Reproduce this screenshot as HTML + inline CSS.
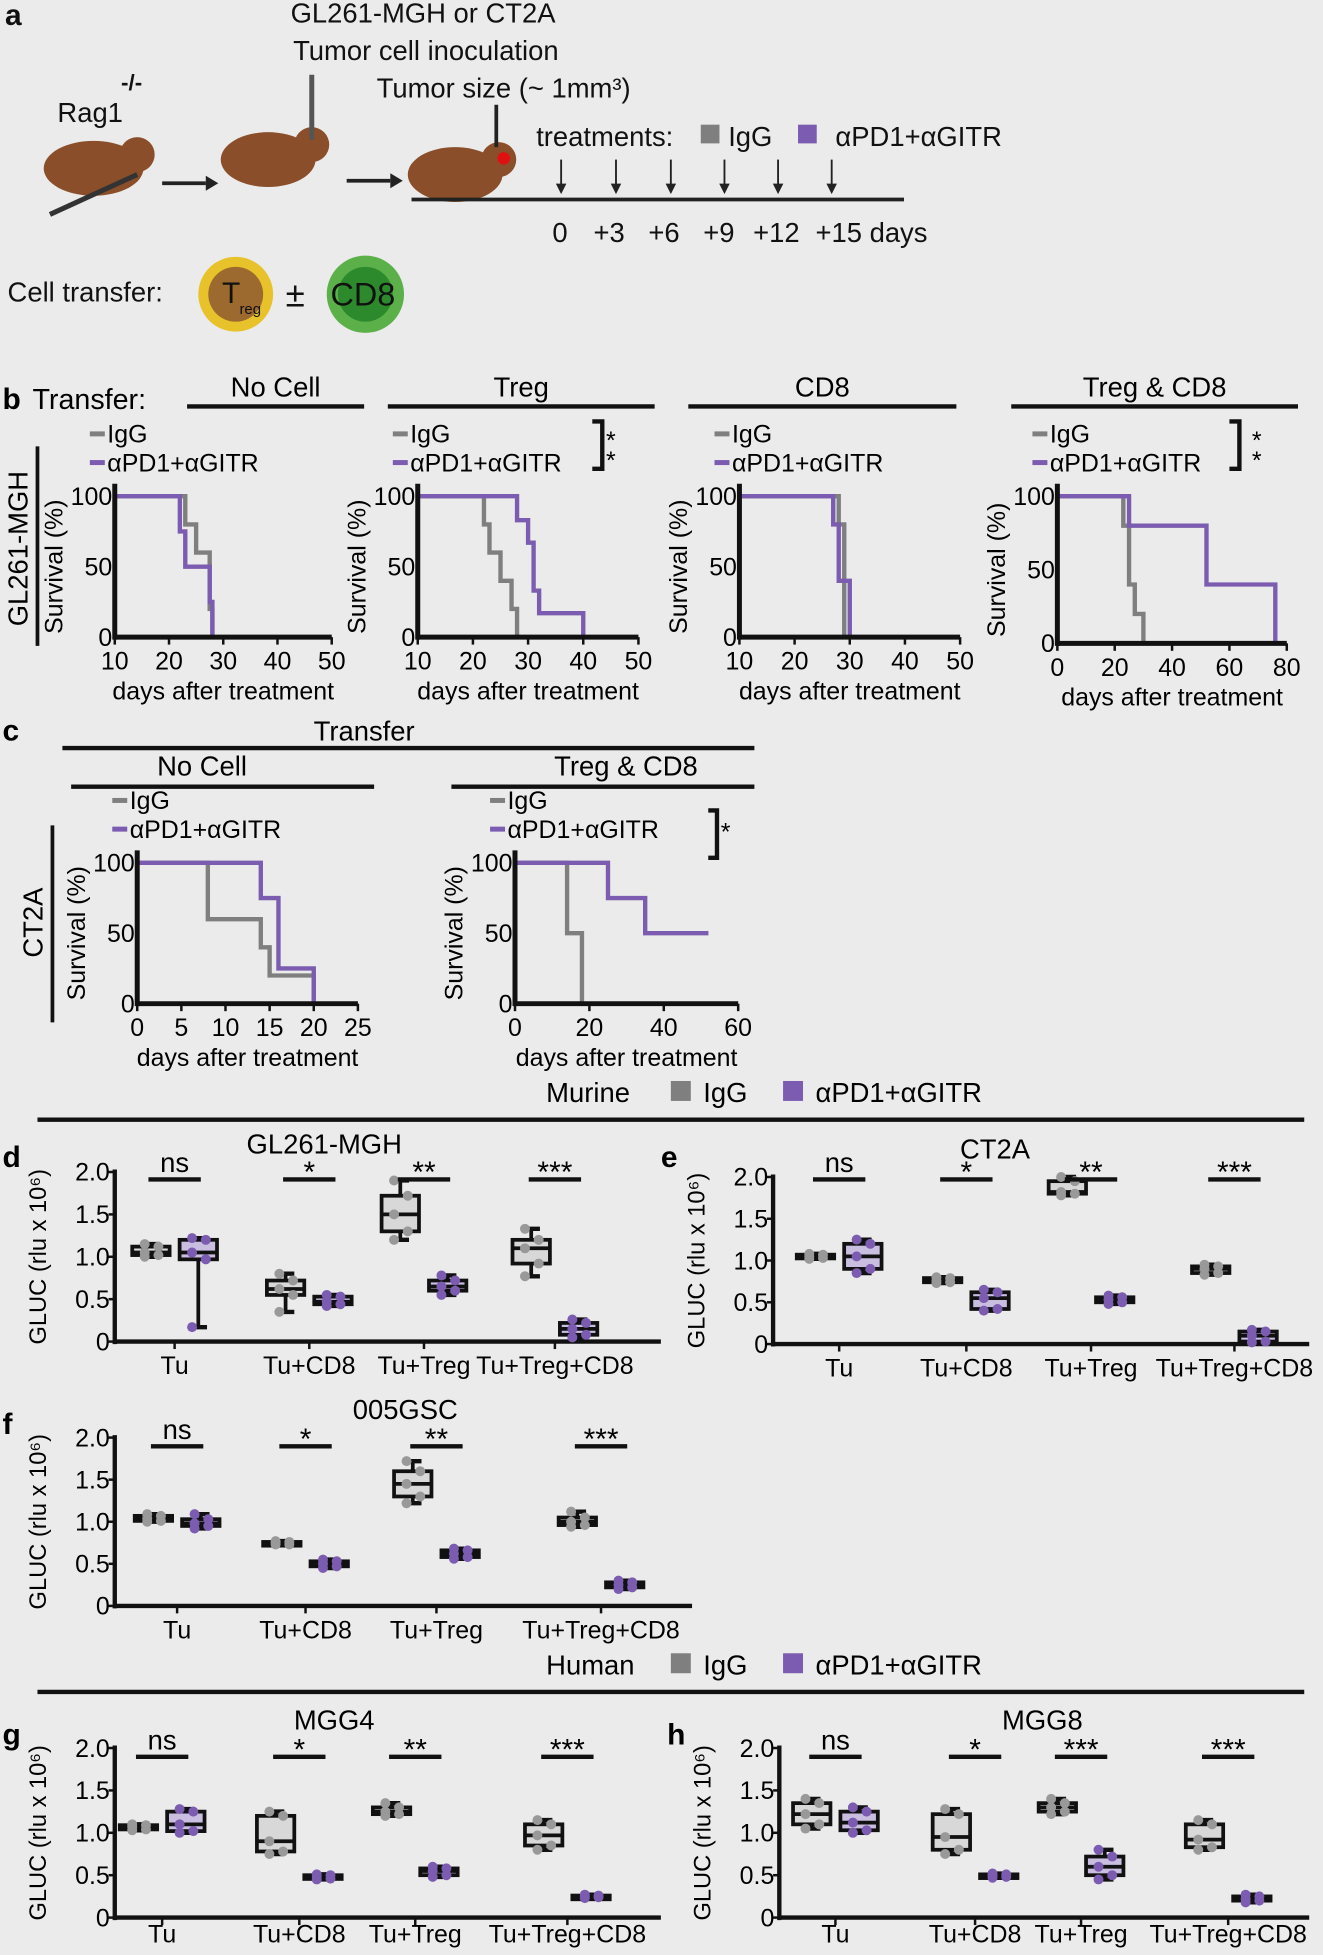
<!DOCTYPE html>
<html><head><meta charset="utf-8"><style>
html,body{margin:0;padding:0;background:#ebebeb;}
svg{display:block;font-family:"Liberation Sans",sans-serif;}
</style></head><body>
<svg id="fig" width="1323" height="1955" viewBox="0 0 1061 1568" xmlns="http://www.w3.org/2000/svg">
<rect width="1061" height="1568" fill="#ebebeb"/>
<g font-size="22" fill="#111">
<text x="4" y="20" font-size="24" font-weight="bold">a</text>
<text x="233" y="18">GL261-MGH or CT2A</text>
<text x="235" y="48">Tumor cell inoculation</text>
<text x="302" y="78">Tumor size (~ 1mm³)</text>
<text x="46" y="98">Rag1</text><text x="97" y="72" font-size="18" font-weight="bold">-/-</text>
<ellipse cx="75" cy="135" rx="40" ry="22" fill="#8a4f2a"/><circle cx="110" cy="124" r="14" fill="#8a4f2a"/>
<line x1="40" y1="172" x2="110" y2="140" stroke="#333" stroke-width="4"/>
<line x1="130" y1="147" x2="165" y2="147" stroke="#222" stroke-width="3"/><polygon points="165,141 175,147 165,153" fill="#222"/>
<ellipse cx="215" cy="128" rx="38" ry="22" fill="#8a4f2a"/><circle cx="250" cy="116" r="14" fill="#8a4f2a"/>
<line x1="250" y1="60" x2="250" y2="112" stroke="#555" stroke-width="4"/>
<line x1="278" y1="145" x2="313" y2="145" stroke="#222" stroke-width="3"/><polygon points="313,139 323,145 313,151" fill="#222"/>
<ellipse cx="365" cy="140" rx="38" ry="22" fill="#8a4f2a"/><circle cx="400" cy="128" r="14" fill="#8a4f2a"/><circle cx="404" cy="127" r="5" fill="#e01010"/>
<line x1="398" y1="84" x2="398" y2="118" stroke="#222" stroke-width="3"/>
<line x1="330" y1="160" x2="725" y2="160" stroke="#222" stroke-width="3"/>
<text x="430" y="117">treatments:</text><rect x="562" y="100" width="15" height="15" fill="#7f7f7f"/><text x="584" y="117">IgG</text>
<rect x="640" y="100" width="15" height="15" fill="#7b5cb0"/><text x="670" y="117">αPD1+αGITR</text>
<g id="ticks-a" stroke="#222" stroke-width="1.5"></g>
<text x="443" y="194">0</text><text x="476" y="194">+3</text><text x="520" y="194">+6</text><text x="564" y="194">+9</text><text x="604" y="194">+12</text><text x="654" y="194">+15 days</text>
<text x="6" y="242">Cell transfer:</text>
<circle cx="189" cy="236" r="30" fill="#e8c22a"/><circle cx="189" cy="236" r="22" fill="#9c6a2e"/>
<text x="178" y="243" font-size="24">T</text><text x="192" y="252" font-size="12">reg</text>
<text x="229" y="246" font-size="28">±</text>
<circle cx="293" cy="236" r="31" fill="#5cb04a"/><circle cx="293" cy="236" r="22" fill="#2d8a2c"/><text x="265" y="245" font-size="26">CD8</text>
</g>
<g id="charts"></g>
</svg>
<script>
// ---------- survival data ----------
const b1IgG_t=[10,23,25,27.5,28], b1IgG_s=[100,80,60,20,0];
const b1P_t=[10,22,23,27.5,28], b1P_s=[100,75,50,25,0];
const b2IgG_t=[10,22,23,25,27,28], b2IgG_s=[100,80,60,40,20,0];
const b2P_t=[10,28,30,31,32,40], b2P_s=[100,83,67,33,17,0];
const b3IgG_t=[10,28,29], b3IgG_s=[100,80,0];
const b3P_t=[10,27,28,30], b3P_s=[100,80,40,0];
const b4IgG_t=[0,23,25,27,30], b4IgG_s=[100,80,40,20,0];
const b4P_t=[0,25,52,76], b4P_s=[100,80,40,0];
const c1IgG_t=[0,8,14,15,20], c1IgG_s=[100,60,40,20,0];
const c1P_t=[0,14,16,20], c1P_s=[100,75,25,0];
const c2IgG_t=[0,14,18,24], c2IgG_s=[100,50,0,0];
const c2P_t=[0,25,35,52], c2P_s=[100,75,50,50];
const ticks1050=[10,20,30,40,50], ticks080=[0,20,40,60,80], ticks025=[0,5,10,15,20,25], ticks060=[0,20,40,60];
// ---------- box data [min,q1,med,q3,max] ----------
const groups=["Tu","Tu+CD8","Tu+Treg","Tu+Treg+CD8"];
const dIgG=[[1.0,1.02,1.05,1.12,1.15],[0.35,0.55,0.62,0.72,0.8],[1.2,1.3,1.5,1.72,1.9],[0.77,0.92,1.1,1.2,1.33]];
const dP=[[0.17,0.97,1.05,1.2,1.22],[0.42,0.44,0.47,0.53,0.55],[0.55,0.6,0.65,0.72,0.78],[0.05,0.08,0.15,0.22,0.26]];
const eIgG=[[1.02,1.03,1.05,1.07,1.08],[0.73,0.74,0.76,0.79,0.8],[1.78,1.8,1.82,1.95,2.0],[0.83,0.85,0.9,0.93,0.95]];
const eP=[[0.85,0.9,1.05,1.2,1.25],[0.4,0.42,0.55,0.62,0.65],[0.48,0.5,0.53,0.56,0.58],[0.02,0.03,0.1,0.15,0.17]];
const fIgG=[[1.0,1.01,1.04,1.07,1.09],[0.73,0.73,0.75,0.76,0.77],[1.22,1.3,1.45,1.6,1.72],[0.94,0.96,1.0,1.05,1.12]];
const fP=[[0.92,0.95,0.98,1.03,1.09],[0.45,0.47,0.5,0.53,0.55],[0.56,0.58,0.62,0.66,0.68],[0.2,0.22,0.25,0.28,0.3]];
const gIgG=[[1.03,1.04,1.07,1.09,1.1],[0.75,0.78,0.9,1.2,1.25],[1.2,1.22,1.25,1.3,1.35],[0.8,0.85,0.97,1.1,1.15]];
const gP=[[1.0,1.02,1.1,1.25,1.28],[0.45,0.46,0.48,0.5,0.51],[0.48,0.5,0.55,0.58,0.6],[0.23,0.24,0.25,0.26,0.27]];
const hIgG=[[1.05,1.1,1.22,1.35,1.4],[0.75,0.8,0.95,1.22,1.28],[1.22,1.25,1.3,1.35,1.4],[0.8,0.83,0.92,1.1,1.15]];
const hP=[[1.0,1.03,1.12,1.25,1.3],[0.47,0.48,0.5,0.51,0.52],[0.45,0.5,0.6,0.72,0.8],[0.18,0.2,0.22,0.25,0.27]];
const sig=["ns","*","**","***"];
const sigH=["ns","*","***","***"];
const yTicks=[0,0.5,1.0,1.5,2.0], yTickLabels=["0","0.5","1.0","1.5","2.0"];

const NS="http://www.w3.org/2000/svg";
const root=document.getElementById("charts");
function mk(tag,attrs,parent,txt){const e=document.createElementNS(NS,tag);for(const k in attrs)e.setAttribute(k,attrs[k]);if(txt!==undefined)e.textContent=txt;(parent||root).appendChild(e);return e;}
const GRAY="#7f7f7f", PUR="#7b5cb0";

const ta=document.getElementById("ticks-a");
[450,494,538,581,624,667].forEach(x=>{mk("line",{x1:x,y1:128,x2:x,y2:152},ta);mk("polygon",{points:`${x-3},148 ${x+3},148 ${x},154`,fill:"#222"},ta);});

function surv(name,x0,x1,y0,y1,xmin,xmax,ticks,series){
  const g=mk("g",{});
  
  
  const sx=v=>x0+(v-xmin)/(xmax-xmin)*(x1-x0), sy=v=>y0-(v/100)*(y0-y1);
  series.forEach(s=>{
    let d=`M${sx(s.t[0])},${sy(s.s[0])}`;
    for(let i=1;i<s.t.length;i++){d+=` H${sx(s.t[i])} V${sy(s.s[i])}`;}
    const p=mk("path",{d:d,fill:"none",stroke:s.c,"stroke-width":3.5},g);
    
    
  });
  mk("line",{x1:x0,y1:y0,x2:x1,y2:y0,stroke:"#111","stroke-width":4},g);
  mk("line",{x1:x0,y1:y0+2,x2:x0,y2:y1-10,stroke:"#111","stroke-width":4},g);
  ticks.forEach(t=>{mk("line",{x1:sx(t),y1:y0,x2:sx(t),y2:y0+6,stroke:"#111","stroke-width":2},g);
    const tl=mk("text",{x:sx(t),y:y0+26,"text-anchor":"middle","font-size":20},g,String(t));
    });
  [0,50,100].forEach(v=>{const tl=mk("text",{x:x0-2,y:sy(v)+7,"text-anchor":"end","font-size":20},g,String(v));
    });
  const xt=mk("text",{x:(x0+x1)/2,y:y0+50,"text-anchor":"middle","font-size":20},g,"days after treatment");
  
  const yt=mk("text",{transform:`translate(${x0-42},${(y0+y1)/2}) rotate(-90)`,"text-anchor":"middle","font-size":20},g,"Survival (%)");
  
  mk("line",{x1:x0-20,y1:y1-50,x2:x0-8,y2:y1-50,stroke:GRAY,"stroke-width":4},g);
  mk("text",{x:x0-6,y:y1-43,"font-size":20},g,"IgG");
  mk("line",{x1:x0-20,y1:y1-27,x2:x0-8,y2:y1-27,stroke:PUR,"stroke-width":4},g);
  mk("text",{x:x0-6,y:y1-20,"font-size":20},g,"αPD1+αGITR");
  return g;
}
surv("survival-b-no-cell",92,266,511,398,10,50,ticks1050,[{t:b1IgG_t,s:b1IgG_s,c:GRAY},{t:b1P_t,s:b1P_s,c:PUR}]);
surv("survival-b-treg",335,512,511,398,10,50,ticks1050,[{t:b2IgG_t,s:b2IgG_s,c:GRAY},{t:b2P_t,s:b2P_s,c:PUR}]);
surv("survival-b-cd8",593,770,511,398,10,50,ticks1050,[{t:b3IgG_t,s:b3IgG_s,c:GRAY},{t:b3P_t,s:b3P_s,c:PUR}]);
surv("survival-b-treg-cd8",848,1032,516,398,0,80,ticks080,[{t:b4IgG_t,s:b4IgG_s,c:GRAY},{t:b4P_t,s:b4P_s,c:PUR}]);
surv("survival-c-no-cell",110,287,805,692,0,25,ticks025,[{t:c1IgG_t,s:c1IgG_s,c:GRAY},{t:c1P_t,s:c1P_s,c:PUR}]);
surv("survival-c-treg-cd8",413,592,805,692,0,60,ticks060,[{t:c2IgG_t,s:c2IgG_s,c:GRAY},{t:c2P_t,s:c2P_s,c:PUR}]);

function txt(x,y,s,size,extra,name){const t=mk("text",Object.assign({x:x,y:y,"font-size":size},extra||{}),root,s);return t;}
function ln(x1,y1,x2,y2,w){mk("line",{x1,y1,x2,y2,stroke:"#111","stroke-width":w||3});}
txt(2,328,"b",24,{"font-weight":"bold"},"panel-b-letter");txt(26,328,"Transfer:",23);
[[150,292,"No Cell"],[311,525,"Treg"],[552,767,"CD8"],[811,1041,"Treg & CD8"]].forEach(h=>{ln(h[0],326,h[1],326,3.5);txt((h[0]+h[1])/2,318,h[2],22,{"text-anchor":"middle"},"transfer-header");});
txt(22,440,"GL261-MGH",22,{transform:"rotate(-90 22 440)","text-anchor":"middle"},"row-label");ln(30,358,30,518,3);
mk("path",{d:"M475,338 h8 v38 h-8",fill:"none",stroke:"#111","stroke-width":3.5});txt(486,360,"*",20);txt(486,376,"*",20);
mk("path",{d:"M986,338 h8 v38 h-8",fill:"none",stroke:"#111","stroke-width":3.5});txt(1004,360,"*",20);txt(1004,376,"*",20);
txt(2,594,"c",24,{"font-weight":"bold"},"panel-c-letter");
txt(292,594,"Transfer",22,{"text-anchor":"middle"});ln(50,600,605,600,3.5);
ln(57,631,300,631,3.5);txt(162,622,"No Cell",22,{"text-anchor":"middle"});
ln(362,631,605,631,3.5);txt(502,622,"Treg & CD8",22,{"text-anchor":"middle"});
txt(34,740,"CT2A",22,{transform:"rotate(-90 34 740)","text-anchor":"middle"},"row-label");ln(42,662,42,820,3);
mk("path",{d:"M568,650 h7 v38 h-7",fill:"none",stroke:"#111","stroke-width":3.5});txt(578,674,"*",20);

function legendBar(y,lbl,x0,x1,lx){txt(lx,y,lbl,22,{},"legend-title");mk("rect",{x:lx+100,y:y-17,width:16,height:16,fill:GRAY});txt(lx+126,y,"IgG",22,{},"legend-entry");mk("rect",{x:lx+190,y:y-17,width:16,height:16,fill:PUR});txt(lx+216,y,"αPD1+αGITR",22,{},"legend-entry");ln(x0,y+14,x1,y+14,3.5);}
legendBar(884,"Murine",30,1046,438);
legendBar(1343,"Human",30,1046,438);

function boxes(name,letter,title,x0,x1,y0,y1,centers,IgG,P,sigY,titleX,labelY,sigs){
  sigs=sigs||sig;
  const g=mk("g",{});
  
  
  const sy=v=>y0-v/2*(y0-y1);
  txt(x0-90,sigY-10,letter,24,{"font-weight":"bold"},"panel-letter");
  txt(titleX,y1-15,title,22,{"text-anchor":"middle"},"chart-title");
  mk("line",{x1:x0,y1:y0,x2:x1,y2:y0,stroke:"#111","stroke-width":3.5},g);
  mk("line",{x1:x0,y1:y0+2,x2:x0,y2:y1-2,stroke:"#111","stroke-width":3.5},g);
  yTicks.forEach((t,i)=>{mk("line",{x1:x0-5,y1:sy(t),x2:x0,y2:sy(t),stroke:"#111","stroke-width":2},g);
    const tl=mk("text",{x:x0-4,y:sy(t)+7,"text-anchor":"end","font-size":20},g,yTickLabels[i]);});
  const yt=mk("text",{transform:`translate(${x0-55},${(y0+y1)/2}) rotate(-90)`,"text-anchor":"middle","font-size":19},g,"GLUC (rlu x 10⁶)");
  
  centers.forEach((c,i)=>{
    mk("line",{x1:c,y1:y0,x2:c,y2:y0+6,stroke:"#111","stroke-width":2},g);
    const xl=mk("text",{x:c,y:y0+(labelY||26),"text-anchor":"middle","font-size":20},g,groups[i]);
    [[IgG[i],c-19,"#999","#d8d8d8"],[P[i],c+19,PUR,"#c9bde0"]].forEach(([q,x,dot,fill])=>{
      const b=mk("g",{},g);
      mk("line",{x1:x,y1:sy(q[0]),x2:x,y2:sy(q[4]),stroke:"#111","stroke-width":3},b);
      mk("line",{x1:x-7,y1:sy(q[0]),x2:x+7,y2:sy(q[0]),stroke:"#111","stroke-width":3.5},b);
      mk("line",{x1:x-7,y1:sy(q[4]),x2:x+7,y2:sy(q[4]),stroke:"#111","stroke-width":3.5},b);
      mk("rect",{x:x-15,y:sy(q[3]),width:30,height:Math.max(3,sy(q[1])-sy(q[3])),fill:fill,stroke:"#111","stroke-width":3},b);
      mk("line",{x1:x-15,y1:sy(q[2]),x2:x+15,y2:sy(q[2]),stroke:"#111","stroke-width":3},b);
      q.forEach((v,k)=>mk("circle",{cx:x+(k%2?6:-5),cy:sy(v),r:4,fill:dot},b));
    });
    mk("line",{x1:c-21,y1:sigY,x2:c+21,y2:sigY,stroke:"#111","stroke-width":3.5},g);
    const st=mk("text",{x:c,y:sigY-(i===0?6:-2),"text-anchor":"middle","font-size":i===0?22:24},g,sigs[i]);
    
  });
}
boxes("boxplot-d-gl261","d","GL261-MGH",92,530,1076,940,[140,248,340,445],dIgG,dP,946,260);
boxes("boxplot-e-ct2a","e","CT2A",620,1050,1078,944,[673,775,875,990],eIgG,eP,946,798);
boxes("boxplot-f-005gsc","f","005GSC",92,555,1288,1153,[142,245,350,482],fIgG,fP,1160,325);
boxes("boxplot-g-mgg4","g","MGG4",92,530,1538,1402,[130,240,333,455],gIgG,gP,1409,268,20);
boxes("boxplot-h-mgg8","h","MGG8",625,1050,1538,1402,[670,782,867,985],hIgG,hP,1409,836,20,sigH);
</script>
</body></html>
